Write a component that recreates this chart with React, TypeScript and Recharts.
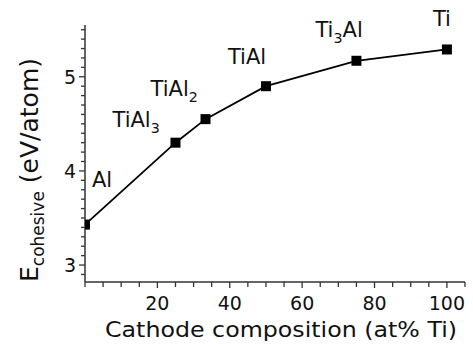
import { LineChart, Line, XAxis, YAxis, LabelList } from "recharts";

const compounds = ["Al", "TiAl3", "TiAl2", "TiAl", "Ti3Al", "Ti"];
const tiPercent = [0, 25, 33.3, 50, 75, 100];
const cohesiveEnergy = [3.43, 4.3, 4.55, 4.9, 5.17, 5.29];
const xMajorTicks = [20, 40, 60, 80, 100];
const yMajorTicks = [3, 4, 5];

// label text start / baseline relative to each marker
const LABEL_OFFSETS = [
  [7, -38],
  [-63, -16],
  [-55, -23],
  [-38, -22],
  [-41, -24],
  [-14, -23],
];

const FONT = "'DejaVu Sans', sans-serif";
const INK = "#111";
const PLOT_LEFT = 85;

const data = compounds.map((name, i) => ({
  name,
  x: tiPercent[i],
  y: cohesiveEnergy[i],
}));

const xTicks = Array.from({ length: 22 }, (_, i) => i * 5);
const yTicks = Array.from({ length: 27 }, (_, i) => Math.round((2.9 + i * 0.1) * 10) / 10);

// render "TiAl3" with digit subscripts
function Formula({ name, size }: { name: string; size: number }) {
  const parts = name.match(/[A-Za-z]+|\d+/g) || [];
  let shifted = false;
  return (
    <>
      {parts.map((p, i) => {
        const isSub = /\d/.test(p);
        let dy = 0;
        if (isSub && !shifted) {
          dy = 6;
          shifted = true;
        } else if (!isSub && shifted) {
          dy = -6;
          shifted = false;
        }
        return (
          <tspan key={i} dy={dy} fontSize={isSub ? size * 0.68 : size}>
            {p}
          </tspan>
        );
      })}
    </>
  );
}

function PointLabel(props: any) {
  const { x, y, index } = props;
  const [dx, dy] = LABEL_OFFSETS[index];
  return (
    <text x={x + dx} y={y + dy} fill={INK} fontFamily={FONT} fontSize={21}>
      <Formula name={compounds[index]} size={21} />
    </text>
  );
}

function SquareDot(props: any) {
  const { cx, cy } = props;
  if (cx == null || cy == null) return null;
  const left = Math.max(cx - 5, PLOT_LEFT);
  return <rect x={left} y={cy - 5} width={cx + 5 - left} height={10} fill="#000" />;
}

function XTick(props: any) {
  const { x, y, payload } = props;
  const major = xMajorTicks.includes(payload.value);
  return (
    <g>
      <line x1={x} x2={x} y1={y} y2={y + (major ? 6 : 5)} stroke="#333" strokeWidth={1.3} />
      {major && (
        <text x={x} y={y + 28} textAnchor="middle" fill={INK} fontFamily={FONT} fontSize={19}>
          {payload.value}
        </text>
      )}
    </g>
  );
}

function YTick(props: any) {
  const { x, y, payload } = props;
  const major = yMajorTicks.includes(payload.value);
  return (
    <g>
      <line x1={x - (major ? 6 : 4)} x2={x} y1={y} y2={y} stroke="#333" strokeWidth={1.3} />
      {major && (
        <text x={x - 9} y={y} dy="0.36em" textAnchor="end" fill={INK} fontFamily={FONT} fontSize={19}>
          {payload.value}
        </text>
      )}
    </g>
  );
}

function XTitle() {
  return (
    <text
      x={281}
      y={337}
      textAnchor="middle"
      fill={INK}
      fontFamily={FONT}
      fontSize={22}
      textLength={352}
      lengthAdjust="spacingAndGlyphs"
    >
      Cathode composition (at% Ti)
    </text>
  );
}

function YTitle() {
  return (
    <text
      transform="translate(38,170) rotate(-90)"
      textAnchor="middle"
      fill={INK}
      fontFamily={FONT}
      fontSize={25}
    >
      <tspan>E</tspan>
      <tspan fontSize={17} dy={6}>
        cohesive
      </tspan>
      <tspan dy={-6}> (eV/atom)</tspan>
    </text>
  );
}

export default function App() {
  return (
    <div style={{ position: "absolute", left: 0, top: 0, background: "#fff" }}>
      <LineChart width={473} height={346} data={data} margin={{ top: 25, right: 8, bottom: 0, left: 0 }}>
        <XAxis
          dataKey="x"
          type="number"
          domain={[0, 105]}
          ticks={xTicks}
          interval={0}
          height={64}
          tickSize={0}
          tickMargin={0}
          tickLine={false}
          tick={<XTick />}
          axisLine={{ stroke: "#333", strokeWidth: 1.5 }}
          label={<XTitle />}
        />
        <YAxis
          dataKey="y"
          type="number"
          domain={[2.82, 5.55]}
          ticks={yTicks}
          interval={0}
          width={85}
          tickSize={0}
          tickMargin={0}
          tickLine={false}
          tick={<YTick />}
          axisLine={{ stroke: "#333", strokeWidth: 1.5 }}
          label={<YTitle />}
          allowDataOverflow
        />
        <Line
          dataKey="y"
          stroke="#000"
          strokeWidth={1.8}
          dot={<SquareDot />}
          activeDot={false}
          isAnimationActive={false}
        >
          <LabelList dataKey="name" content={<PointLabel />} />
        </Line>
      </LineChart>
    </div>
  );
}
